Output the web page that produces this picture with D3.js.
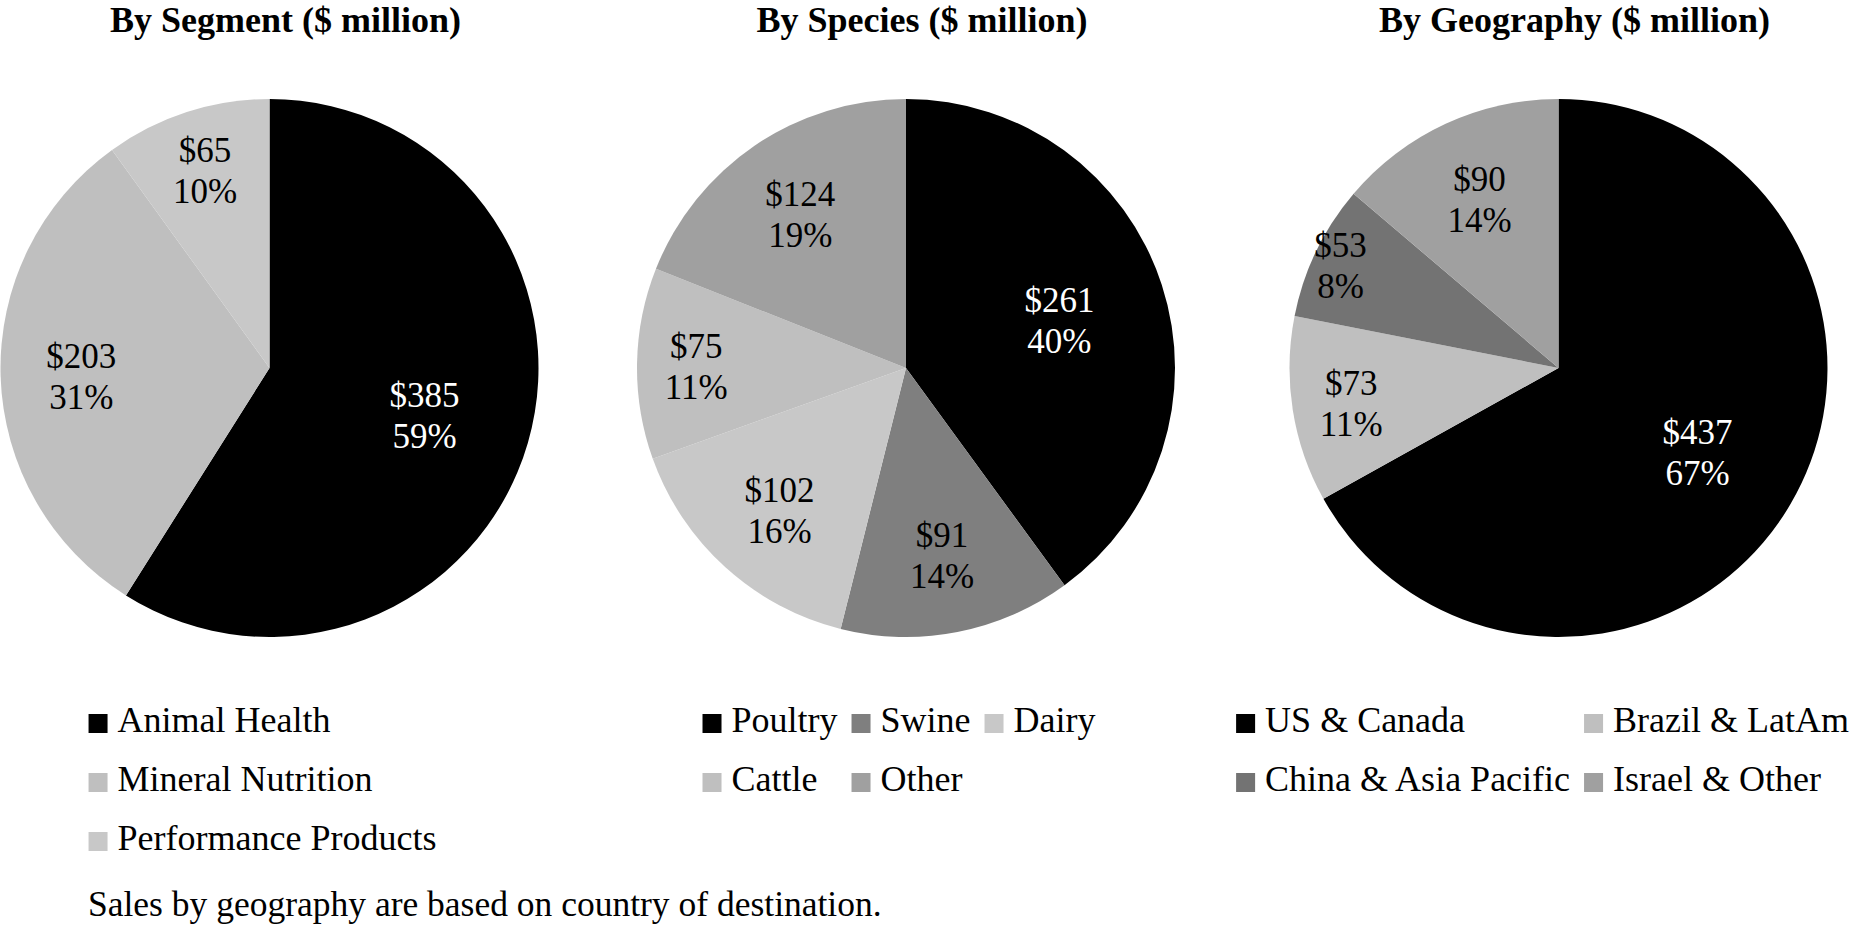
<!DOCTYPE html>
<html>
<head>
<meta charset="utf-8">
<script src="https://cdn.jsdelivr.net/npm/d3@7"></script>
<style>
  html, body { margin: 0; padding: 0; background: #ffffff; }
  svg { display: block; }
  text { font-family: "Liberation Serif", "Times New Roman", serif; }
</style>
</head>
<body>
<svg id="chart" width="1850" height="929"></svg>
<script>
// ---- Data ----
const segmentTitle = "By Segment ($ million)";
const segmentCategories = ["Animal Health", "Mineral Nutrition", "Performance Products"];
const segmentValues = [385, 203, 65];
const segmentColors = ["#000000", "#bfbfbf", "#c8c8c8"];

const speciesTitle = "By Species ($ million)";
const speciesCategories = ["Poultry", "Swine", "Dairy", "Cattle", "Other"];
const speciesValues = [261, 91, 102, 75, 124];
const speciesColors = ["#000000", "#7f7f7f", "#c8c8c8", "#bfbfbf", "#a0a0a0"];

const geoTitle = "By Geography ($ million)";
const geoCategories = ["US & Canada", "Brazil & LatAm", "China & Asia Pacific", "Israel & Other"];
const geoValues = [437, 73, 53, 90];
const geoColors = ["#000000", "#bfbfbf", "#737373", "#a0a0a0"];

const footnote = "Sales by geography are based on country of destination.";

// ---- Layout ----
const svg = d3.select("#chart");
const R = 269;
const cy = 368;
const charts = [
  { title: segmentTitle, cats: segmentCategories, vals: segmentValues, colors: segmentColors, cx: 269.5, cols: 1 },
  { title: speciesTitle, cats: speciesCategories, vals: speciesValues, colors: speciesColors, cx: 906, cols: 3 },
  { title: geoTitle, cats: geoCategories, vals: geoValues, colors: geoColors, cx: 1558.5, cols: 2 }
];

const pie = d3.pie().sort(null).value(d => d.v).startAngle(0).endAngle(2 * Math.PI);
const arc = d3.arc().innerRadius(0).outerRadius(R);

function labelFactor(frac) {
  if (frac > 0.35) return 0.6;
  if (frac > 0.13) return 0.70;
  if (frac > 0.09) return 0.78;
  return 0.9;
}

const legendFont = 36;
const sq = 19;
const sqGap = 10;
const colGap = 14;
const rowStep = 59;
const legendTop = 714;

charts.forEach(c => {
  const total = d3.sum(c.vals);
  const data = c.cats.map((k, i) => ({ k, v: c.vals[i], color: c.colors[i] }));
  const g = svg.append("g");

  // Title
  g.append("text")
    .attr("x", c.cx + 16)
    .attr("y", 32)
    .attr("text-anchor", "middle")
    .attr("font-size", 36)
    .attr("font-weight", "bold")
    .attr("fill", "#000")
    .text(c.title);

  const pg = g.append("g").attr("transform", `translate(${c.cx},${cy})`);
  const arcs = pie(data);
  pg.selectAll("path").data(arcs).enter().append("path")
    .attr("d", arc)
    .attr("fill", d => d.data.color);

  arcs.forEach(a => {
    const frac = a.data.v / total;
    const mid = (a.startAngle + a.endAngle) / 2;
    const rr = R * labelFactor(frac);
    const lx = Math.sin(mid) * rr;
    const ly = -Math.cos(mid) * rr;
    const fill = a.data.color === "#000000" ? "#ffffff" : "#000000";
    const t = pg.append("text")
      .attr("text-anchor", "middle")
      .attr("font-size", 35)
      .attr("fill", fill);
    t.append("tspan").attr("x", lx).attr("y", ly - 6).text("$" + a.data.v);
    t.append("tspan").attr("x", lx).attr("y", ly + 35).text(Math.round(frac * 100) + "%");
  });

  // Legend
  const lg = g.append("g");
  const items = lg.selectAll("g.item").data(data).enter().append("g").attr("class", "item");
  items.append("rect").attr("width", sq).attr("height", sq).attr("fill", d => d.color);
  items.append("text")
    .attr("x", sq + sqGap)
    .attr("y", sq - 1)
    .attr("font-size", legendFont)
    .attr("fill", "#000")
    .text(d => d.k);
  const widths = [];
  items.each(function (d, i) {
    const w = sq + sqGap + d3.select(this).select("text").node().getComputedTextLength();
    const col = i % c.cols;
    widths[col] = Math.max(widths[col] || 0, w);
  });
  const colX = [];
  let acc = 0;
  widths.forEach((w, i) => { colX[i] = acc; acc += w + colGap; });
  const totalW = acc - colGap;
  const x0 = Math.min(c.cx - totalW / 2 - 7, 1849 - totalW);
  items.attr("transform", (d, i) => {
    const col = i % c.cols, row = Math.floor(i / c.cols);
    return `translate(${x0 + colX[col]},${legendTop + row * rowStep})`;
  });
});

svg.append("text")
  .attr("x", 88)
  .attr("y", 916)
  .attr("font-size", 35.5)
  .attr("fill", "#000")
  .text(footnote);
</script>
</body>
</html>
